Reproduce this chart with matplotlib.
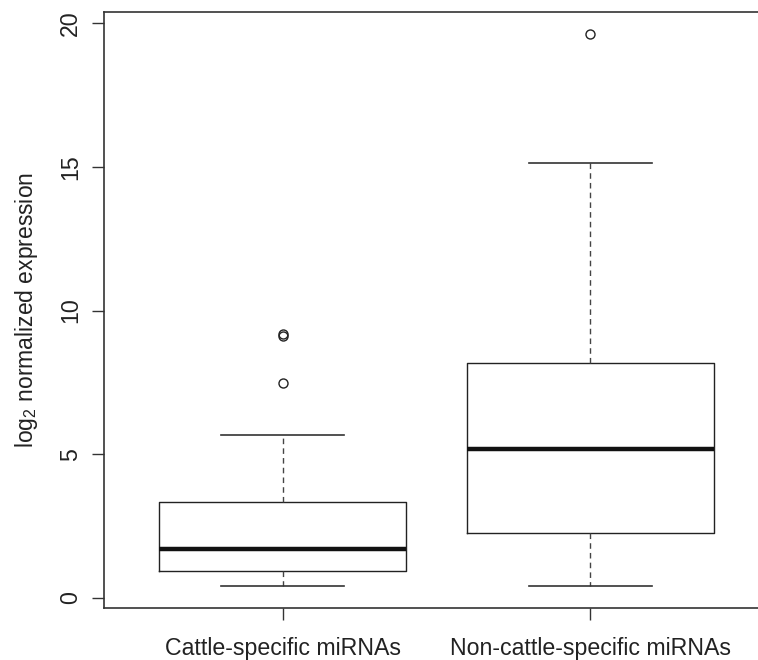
import matplotlib
matplotlib.use("Agg")
import matplotlib.pyplot as plt

plt.rcParams["font.family"] = ["Liberation Sans", "DejaVu Sans"]
plt.rcParams["mathtext.fontset"] = "custom"
plt.rcParams["mathtext.rm"] = "Liberation Sans"
plt.rcParams["mathtext.it"] = "Liberation Sans"

LABELS = ["Cattle-specific miRNAs", "Non-cattle-specific miRNAs"]
WHISK_LO = [0.42, 0.42]
Q1 = [0.92, 2.26]
MEDIAN = [1.70, 5.19]
Q3 = [3.32, 8.16]
WHISK_HI = [5.67, 15.13]
OUTLIERS = [[7.47, 9.10, 9.17], [19.64]]

stats = []
for i in range(len(LABELS)):
    stats.append({
        "label": LABELS[i],
        "whislo": WHISK_LO[i], "q1": Q1[i], "med": MEDIAN[i],
        "q3": Q3[i], "whishi": WHISK_HI[i], "fliers": OUTLIERS[i],
    })

fig = plt.figure(figsize=(7.58, 6.6), dpi=100)
# frame runs past the right edge of the picture, as in the source
ax = fig.add_axes([104 / 758, (660 - 607.7) / 660, (769 - 104) / 758, (607.7 - 11.7) / 660])

ink = "#222222"
ax.bxp(stats, positions=[1, 2], widths=0.8,
       boxprops=dict(color=ink, linewidth=1.0),
       medianprops=dict(color="#111111", linewidth=3.2, solid_capstyle="butt"),
       whiskerprops=dict(color="#444444", linewidth=1.0, linestyle=(0, (4, 3))),
       capprops=dict(color="#333333", linewidth=1.2),
       capwidths=0.4,
       flierprops=dict(marker="o", markersize=6.5, markerfacecolor="none",
                       markeredgecolor=ink, markeredgewidth=1.0))

ax.set_xlim(0.42, 2.58)
ax.set_ylim(-0.35, 20.41)
ax.set_yticks([0, 5, 10, 15, 20])
ax.set_xticks([1, 2])
ax.set_xticklabels(LABELS)
for lbl in ax.get_yticklabels():
    lbl.set_rotation(90)
    lbl.set_va("center")

ax.tick_params(axis="both", direction="out", length=8.8, width=1.0, color="#333333",
               labelsize=16.7, labelcolor="#222222")
ax.tick_params(axis="x", pad=12.5)
ax.tick_params(axis="y", pad=7)
for s in ax.spines.values():
    s.set_color("#333333")
    s.set_linewidth(1.2)

ax.set_ylabel(r"log$_2$ normalized expression", fontsize=16.5, color="#222222", labelpad=14)

fig.savefig("out.png", dpi=100)
